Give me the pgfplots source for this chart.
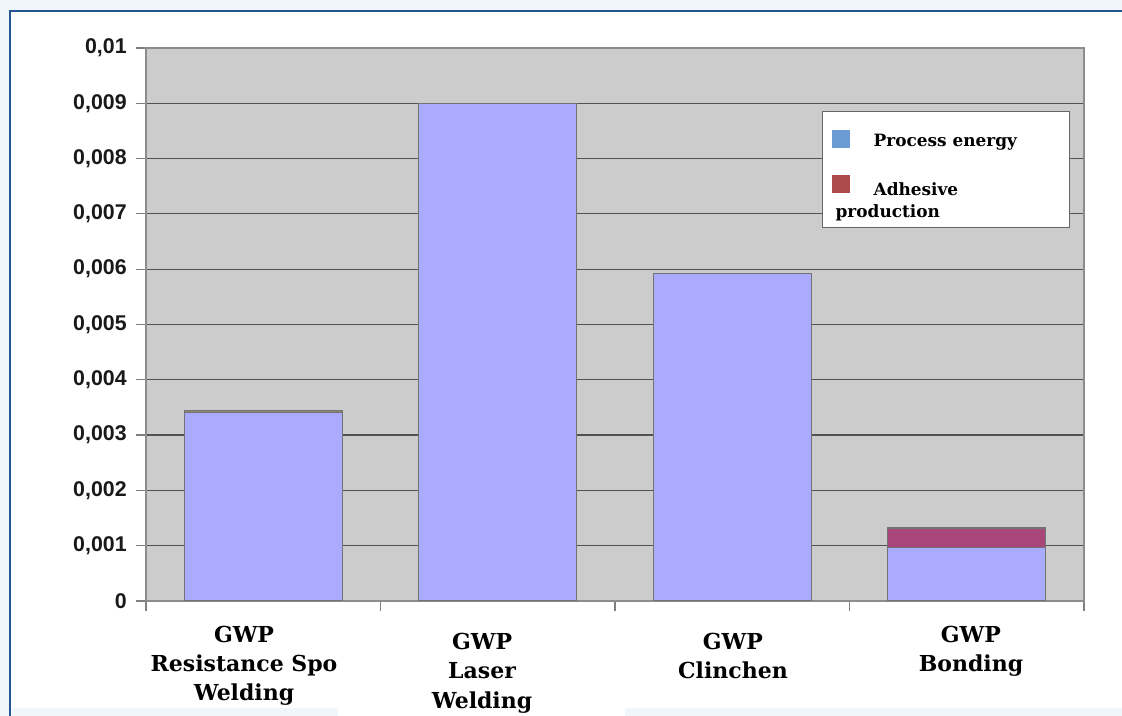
\documentclass[border=0pt]{standalone}
\usepackage{pgfplots}
\pgfplotsset{compat=1.18}
\usepackage{fontspec}
\setmainfont{DejaVu Serif}
\newfontfamily\ticksans{Liberation Sans}
\definecolor{outerbg}{HTML}{EFF7FD}
\definecolor{frameblue}{HTML}{24558F}
\definecolor{plotbg}{HTML}{CCCCCC}
\definecolor{barblue}{HTML}{AAAAFF}
\definecolor{barred}{HTML}{A8467A}
\definecolor{barolive}{HTML}{8C8A6E}
\definecolor{legblue}{HTML}{6A9BD2}
\definecolor{legred}{HTML}{AD4A4A}
\begin{document}
\begin{tikzpicture}
\useasboundingbox (0,0) rectangle (841.5pt,537pt);
\fill[outerbg] (0,0) rectangle (841.5pt,537pt);
\fill[white] (6.75pt,0) rectangle (841.5pt,529.5pt);
\fill[outerbg] (9pt,0) rectangle (253.5pt,6pt);
\fill[outerbg] (468.75pt,0) rectangle (841.5pt,6pt);
\draw[frameblue, line width=1.6pt] (7.5pt,0) -- (7.5pt,529pt) -- (841.5pt,529pt);
\begin{axis}[
  at={(109.5pt,86.25pt)}, anchor=south west,
  scale only axis, width=703.5pt, height=414.75pt,
  xmin=-0.5, xmax=3.5, ymin=0, ymax=0.01,
  ybar stacked, bar width=0.674,
  axis background/.style={fill=plotbg},
  axis line style={draw=black!45, line width=0.9pt},
  ymajorgrids, grid style={draw=black!68, line width=0.9pt},
  major tick length=7.5pt, tick align=outside,
  tick style={draw=black!50, line width=0.9pt},
  xtick pos=bottom, ytick pos=left,
  ytick={0,0.001,...,0.0105},
  scaled y ticks=false,
  yticklabel style={font=\ticksans\bfseries\fontsize{16}{18}\selectfont, text=black!90, xshift=-3.5pt,
    /pgf/number format/fixed, /pgf/number format/precision=3,
    /pgf/number format/use comma, /pgf/number format/assume math mode=true},
  xtick={-0.5,0.5,1.5,2.5,3.5}, xticklabels={,,,,,},
  extra x ticks={-0.082,0.933,2.003,3.018},
  extra x tick labels={GWP\\Resistance Spo\\Welding, \rule{0pt}{18pt}GWP\\Laser\\Welding, \rule{0pt}{18pt}GWP\\Clinchen, GWP\\Bonding},
  extra x tick style={major tick length=0pt, grid=none,
    xticklabel style={font=\bfseries\fontsize{16.5}{21.8}\selectfont, align=center, anchor=north, inner sep=0pt, yshift=-18.5pt}},
  legend style={at={(0.7207,0.886)}, anchor=north west, draw=black!60, fill=white,
    font=\bfseries\fontsize{12.7}{16.5}\selectfont, row sep=18.5pt, inner xsep=7pt, inner ysep=4pt},
  legend cell align=left,
]
\addplot[fill=barblue, draw=black!55, line width=0.8pt, forget plot] coordinates {(0,0.00341)(1,0.0090)(2,0.00593)(3,0.00097)};
\addplot[fill=barolive, draw=black!55, line width=0.8pt, forget plot] coordinates {(0,0.00004)(1,0)(2,0)(3,0)};
\addplot[fill=barred, draw=black!55, line width=0.8pt, forget plot] coordinates {(0,0)(1,0)(2,0)(3,0.00035)};
\addlegendimage{legend image code/.code={\path[draw=none,fill=none] (0pt,-5.6pt) rectangle (29.5pt,18.15pt);\fill[legblue,draw=none] (0pt,-5.6pt) rectangle (14pt,7.9pt);}}
\addlegendentry{\makebox[138pt][l]{Process energy}}
\addlegendimage{legend image code/.code={\path[draw=none,fill=none] (0pt,5.65pt) rectangle (29.5pt,19.15pt);\fill[legred,draw=none] (0pt,5.65pt) rectangle (14pt,19.15pt);}}
\addlegendentry{\parbox[b]{138pt}{Adhesive\\\hspace*{-28.5pt}production}}
\end{axis}
\end{tikzpicture}
\end{document}
